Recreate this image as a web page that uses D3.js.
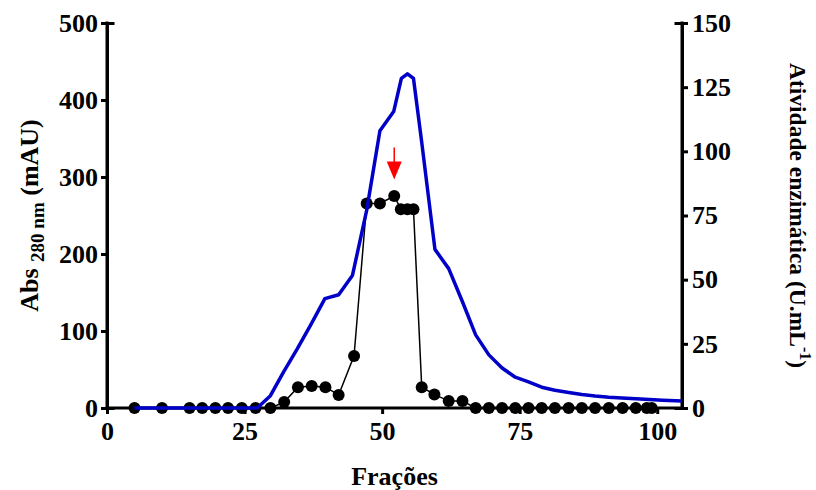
<!DOCTYPE html>
<html>
<head>
<meta charset="utf-8">
<script src="https://cdn.jsdelivr.net/npm/d3@7"></script>
<style>
  body { margin: 0; background: #fff; }
  svg text { font-family: "Liberation Serif", "Times New Roman", serif; font-weight: bold; }
</style>
</head>
<body>
<svg width="816" height="490"></svg>
<script>
// UV absorbance (left axis, mAU)
const absFrac = [5, 27.3, 29.7, 32.1, 34.6, 37.1, 39.6, 42.1, 44.6, 47.2, 49.6, 52.1, 53.5, 54.6, 55.7, 57.2, 59.6, 62.1, 64.6, 67, 69.4, 71.8, 74.2, 76.6, 79, 81.4, 83.9, 86.3, 88.7, 91.2, 93.6, 96.1, 98.6, 101, 104.5];
const absVal  = [0, 0, 16, 47, 77, 109, 142, 147, 172, 257, 360, 385, 428, 434, 428, 345, 206, 181, 138, 95, 69, 52, 40, 34, 27, 23, 20, 17.5, 15.5, 14, 13, 12, 11, 10, 9];

// enzyme activity (right axis, U/mL)
const actFrac = [5, 10, 15, 17.3, 19.7, 22, 24.5, 27, 29.7, 32.2, 34.7, 37.2, 39.7, 42.1, 44.9, 47.2, 49.6, 52.2, 53.4, 54.6, 55.7, 57.2, 59.5, 62.1, 64.6, 67, 69.4, 71.8, 74.2, 76.6, 79, 81.4, 83.9, 86.3, 88.7, 91.2, 93.7, 96.1, 98.1, 99];
const actVal  = [0, 0, 0, 0, 0, 0, 0, 0, 0, 2.3, 8.1, 8.6, 8.1, 5.1, 20.3, 79.7, 79.7, 82.6, 77.4, 77.4, 77.4, 8.1, 5.3, 2.7, 2.7, 0, 0, 0, 0, 0, 0, 0, 0, 0, 0, 0, 0, 0, 0, 0];

// red arrow marking the pooled fraction (right-axis units)
const arrowFrac = 52.2;
const arrowTop = 101.5;
const arrowTip = 89;

const xTicks = [0, 25, 50, 75, 100];
const leftTicks = [0, 100, 200, 300, 400, 500];
const rightTicks = [0, 25, 50, 75, 100, 125, 150];

const svg = d3.select('svg');
const margin = {top: 23, right: 134, bottom: 82, left: 107};
const width = +svg.attr('width');
const height = +svg.attr('height');

const x = d3.scaleLinear().domain([0, 104.5]).range([margin.left, width - margin.right]);
const yL = d3.scaleLinear().domain([0, 500]).range([height - margin.bottom, margin.top]);
const yR = d3.scaleLinear().domain([0, 150]).range([height - margin.bottom, margin.top]);

const fontTick = '26px';

// axes
const gx = svg.append('g')
    .attr('transform', `translate(0,${yL(0)})`)
    .call(d3.axisBottom(x).tickValues(xTicks).tickSize(6).tickPadding(8).tickFormat(d3.format('d')));
const gl = svg.append('g')
    .attr('transform', `translate(${x(0)},0)`)
    .call(d3.axisLeft(yL).tickValues(leftTicks).tickSize(6).tickPadding(3).tickFormat(d3.format('d')));
const gr = svg.append('g')
    .attr('transform', `translate(${x(104.5)},0)`)
    .call(d3.axisRight(yR).tickValues(rightTicks).tickSize(6).tickPadding(4).tickFormat(d3.format('d')));
// small inward tick at the top of both vertical axes
svg.append('g').attr('transform', `translate(${x(0)},0)`)
    .call(d3.axisRight(yL).tickValues([500]).tickSize(6).tickFormat(''));
svg.append('g').attr('transform', `translate(${x(104.5)},0)`)
    .call(d3.axisLeft(yR).tickValues([150]).tickSize(6).tickFormat(''));

svg.selectAll('.domain').attr('stroke', '#000').attr('stroke-width', 3);
svg.selectAll('.tick line').attr('stroke', '#000').attr('stroke-width', 3);
svg.selectAll('.tick text').attr('fill', '#000').style('font-size', fontTick);
gx.select('.domain').attr('d', `M${x(0)},0H${x(104.5)}`);
gl.select('.domain').attr('d', `M0,${yL(500)}V${yL(0)}`);
gr.select('.domain').attr('d', `M0,${yR(150)}V${yR(0)}`);
svg.selectAll('.domain').attr('stroke-linecap', 'square');

// activity: thin black line with filled dots
const actLine = d3.line().x((d, i) => x(actFrac[i])).y(d => yR(d));
svg.append('path')
    .datum(actVal)
    .attr('d', actLine)
    .attr('fill', 'none')
    .attr('stroke', '#000')
    .attr('stroke-width', 1.5);
svg.selectAll('circle.act')
    .data(actVal)
    .enter().append('circle')
    .attr('class', 'act')
    .attr('cx', (d, i) => x(actFrac[i]))
    .attr('cy', d => yR(d))
    .attr('r', 6)
    .attr('fill', '#000');

// absorbance: blue line
const absLine = d3.line().x((d, i) => x(absFrac[i])).y(d => yL(d));
svg.append('path')
    .datum(absVal)
    .attr('d', absLine)
    .attr('fill', 'none')
    .attr('stroke', '#0000c8')
    .attr('stroke-width', 3.5)
    .attr('stroke-linejoin', 'round');

// red arrow
const ax = x(arrowFrac);
svg.append('line')
    .attr('x1', ax).attr('x2', ax)
    .attr('y1', yR(arrowTop)).attr('y2', yR(arrowTip) - 12)
    .attr('stroke', '#ff0000').attr('stroke-width', 1.5);
svg.append('path')
    .attr('d', `M${ax - 7.5},${yR(arrowTip) - 18}L${ax + 7.5},${yR(arrowTip) - 18}L${ax},${yR(arrowTip)}Z`)
    .attr('fill', '#ff0000');

// titles
svg.append('text')
    .attr('x', (x(0) + x(104.5)) / 2)
    .attr('y', 485)
    .attr('text-anchor', 'middle')
    .style('font-size', '26px')
    .text('Frações');

const lt = svg.append('text')
    .attr('transform', `translate(38,${(yL(0) + yL(500)) / 2}) rotate(-90)`)
    .attr('text-anchor', 'middle')
    .style('font-size', '26px');
lt.append('tspan').text('Abs ');
lt.append('tspan').attr('dy', 6).style('font-size', '19px').text('280 nm');
lt.append('tspan').attr('dy', -6).text(' (mAU)');

const rt = svg.append('text')
    .attr('transform', `translate(790,${(yR(0) + yR(150)) / 2}) rotate(90)`)
    .attr('text-anchor', 'middle')
    .style('font-size', '23.5px');
rt.append('tspan').text('Atividade enzimática (U.mL');
rt.append('tspan').attr('dy', -10).style('font-size', '16px').text('-1');
rt.append('tspan').attr('dy', 10).text(')');
</script>
</body>
</html>
